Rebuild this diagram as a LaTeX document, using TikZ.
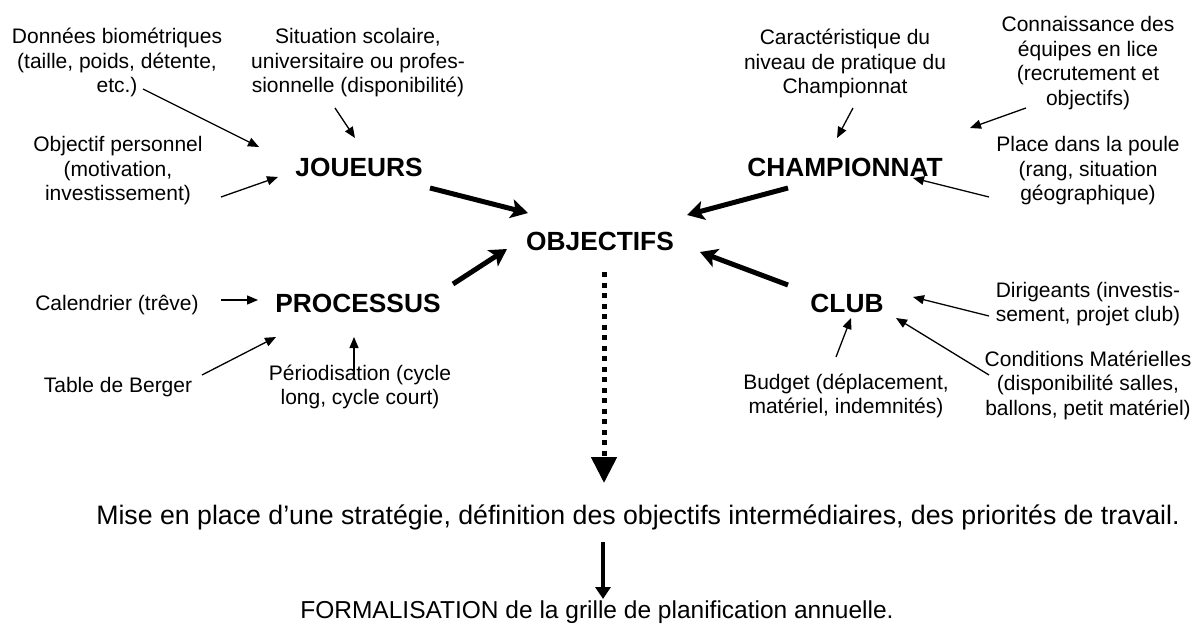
\documentclass[tikz,border=0pt]{standalone}
\usepackage{fontspec}
\setmainfont{Liberation Sans}
\usetikzlibrary{arrows.meta}
\tikzset{
  lab/.style={inner sep=0pt, align=center, anchor=base, font=\fontsize{21}{24.5}\selectfont},
  main/.style={inner sep=0pt, anchor=base, font=\fontsize{26.3}{30}\selectfont\bfseries},
  big/.style={inner sep=0pt, anchor=base, font=\fontsize{24.5}{28}\selectfont},
  bigger/.style={inner sep=0pt, anchor=base, font=\fontsize{26.7}{30}\selectfont},
  thin/.style={line width=1.3pt, -{Triangle[length=11pt,width=9pt]}},
  thick/.style={line width=5pt, -{Stealth[length=17pt,width=19pt,inset=4pt]}},
}
\begin{document}
\begin{tikzpicture}[x=1pt,y=-1pt]
\useasboundingbox (0,0) rectangle (1193,628);
% main nodes
\node[main] (jou) at (359,177) {JOUEURS};
\node[main] (cha) at (845,177) {CHAMPIONNAT};
\node[main] (obj) at (600,251) {OBJECTIFS};
\node[main] (pro) at (358,312) {PROCESSUS};
\node[main] (clu) at (847,312) {CLUB};
% labels (anchor = baseline of the last line)
\node[lab] (don) at (117,93) {Données biométriques\\(taille, poids, détente,\\etc.)};
\node[lab] (sit) at (358,93) {Situation scolaire,\\universitaire ou profes-\\sionnelle (disponibilité)};
\node[lab] (per) at (118,201) {Objectif personnel\\(motivation,\\investissement)};
\node[lab] (car) at (845,94) {Caractéristique du\\niveau de pratique du\\Championnat};
\node[lab] (con) at (1088,105.5) {Connaissance des\\équipes en lice\\(recrutement et\\objectifs)};
\node[lab] (pla) at (1088,201) {Place dans la poule\\(rang, situation\\géographique)};
\node[lab] (cal) at (117,310) {Calendrier (trêve)};
\node[lab] (tab) at (118,392) {Table de Berger};
\node[lab] (pdo) at (360,404.5) {Périodisation (cycle\\long, cycle court)};
\node[lab] (bud) at (846,413.5) {Budget (déplacement,\\matériel, indemnités)};
\node[lab] (dir) at (1088,321.5) {Dirigeants (investis-\\sement, projet club)};
\node[lab] (cmt) at (1088,415) {Conditions Matérielles\\(disponibilité salles,\\ballons, petit matériel)};
\node[bigger] (mis) at (638,524) {Mise en place d’une stratégie, définition des objectifs intermédiaires, des priorités de travail.};
\node[big] (for) at (597,618) {FORMALISATION de la grille de planification annuelle.};
% connector end points
\coordinate (a1s) at (143,89);  \coordinate (a1e) at (259,147);
\coordinate (a2s) at (335,108); \coordinate (a2e) at (355,138);
\coordinate (a3s) at (221,197); \coordinate (a3e) at (278,177);
\coordinate (a4s) at (853,108); \coordinate (a4e) at (837,138);
\coordinate (a5s) at (1026,108);\coordinate (a5e) at (970,128);
\coordinate (a6s) at (989,197); \coordinate (a6e) at (913,178);
\coordinate (a7s) at (221,300); \coordinate (a7e) at (258,300);
\coordinate (a8s) at (202,375); \coordinate (a8e) at (276,337);
\coordinate (a9s) at (354,375); \coordinate (a9e) at (354,337);
\coordinate (b1s) at (836,357); \coordinate (b1e) at (851,318);
\coordinate (b2s) at (989,316); \coordinate (b2e) at (913,297);
\coordinate (b3s) at (989,375); \coordinate (b3e) at (896,318);
\coordinate (t1s) at (430,188); \coordinate (t1e) at (528,213);
\coordinate (t2s) at (788,188); \coordinate (t2e) at (687,215);
\coordinate (t3s) at (453,284); \coordinate (t3e) at (507,249);
\coordinate (t4s) at (788,285); \coordinate (t4e) at (700,252);
\coordinate (d1s) at (604,272); \coordinate (d1e) at (604,483);
\coordinate (s1s) at (603,542); \coordinate (s1e) at (603,599);
% thin arrows
\draw[thin] (a1s) -- (a1e);
\draw[thin] (a2s) -- (a2e);
\draw[thin] (a3s) -- (a3e);
\draw[thin] (a4s) -- (a4e);
\draw[thin] (a5s) -- (a5e);
\draw[thin] (a6s) -- (a6e);
\draw[thin] (a7s) -- (a7e);
\draw[thin] (a8s) -- (a8e);
\draw[thin] (a9s) -- (a9e);
\draw[thin] (b1s) -- (b1e);
\draw[thin] (b2s) -- (b2e);
\draw[thin] (b3s) -- (b3e);
% thick arrows
\draw[thick] (t1s) -- (t1e);
\draw[thick] (t2s) -- (t2e);
\draw[thick] (t3s) -- (t3e);
\draw[thick] (t4s) -- (t4e);
% dotted and final arrows
\draw[line width=5pt, dash pattern=on 5pt off 5.5pt, -{Triangle[length=26pt,width=25pt]}] (d1s) -- (d1e);
\draw[line width=4pt, -{Triangle[length=12pt,width=15pt]}] (s1s) -- (s1e);
\end{tikzpicture}
\end{document}
